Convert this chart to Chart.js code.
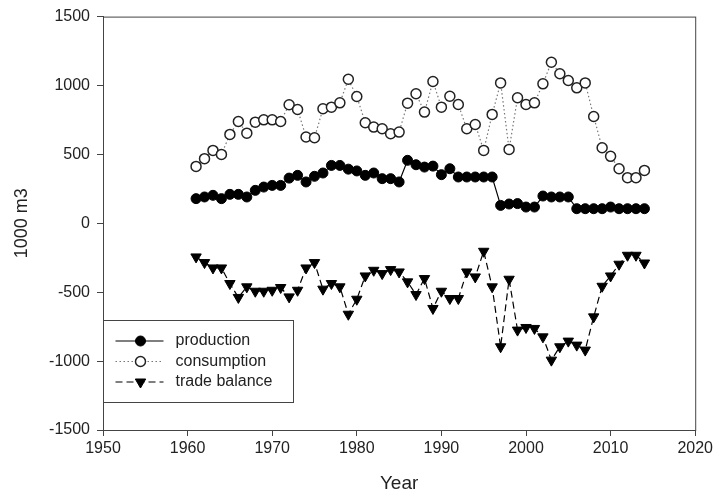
<!DOCTYPE html>
<html>
<head>
<meta charset="utf-8">
<script src="https://cdn.jsdelivr.net/npm/chart.js@4"></script>
<style>
  html, body { margin: 0; padding: 0; background: #fff; }
  #wrap { width: 716px; height: 495px; }
</style>
</head>
<body>
<div id="wrap"><canvas id="chart" width="716" height="495"></canvas></div>
<script>
// years 1961 - 2014
var years = [];
for (var y = 1961; y <= 2014; y++) years.push(y);

var production = [179, 191, 203, 179, 210, 210, 191, 239, 263, 275,
                  275, 328, 348, 300, 341, 365, 420, 420, 393, 380,
                  348, 365, 324, 324, 300, 457, 425, 408, 415, 353,
                  396, 336, 336, 336, 336, 336, 130, 140, 143, 118,
                  118, 198, 191, 191, 191, 106, 106, 106, 106, 118,
                  106, 106, 106, 106];

var consumption = [413, 469, 529, 500, 645, 739, 654, 734, 751, 751,
                   739, 860, 826, 626, 621, 831, 843, 874, 1045, 920,
                   730, 698, 686, 650, 662, 872, 940, 807, 1029, 843,
                   922, 862, 686, 717, 529, 790, 1019, 536, 911, 862,
                   874, 1012, 1169, 1085, 1036, 983, 1019, 775, 548, 486,
                   396, 331, 331, 384];

var tradeBalance = [-244, -285, -324, -324, -437, -538, -461, -493, -493, -486,
                    -466, -534, -486, -324, -285, -478, -437, -461, -660, -551,
                    -382, -341, -365, -336, -353, -425, -517, -401, -618, -493,
                    -546, -546, -353, -389, -203, -461, -896, -406, -775, -756,
                    -763, -824, -993, -896, -855, -884, -920, -679, -457, -382,
                    -297, -232, -232, -288];

var seriesNames = ['production', 'consumption', 'trade balance'];
var xTicks = [1950, 1960, 1970, 1980, 1990, 2000, 2010, 2020];
var yTicks = [-1500, -1000, -500, 0, 500, 1000, 1500];

function pts(vals) {
    return vals.map(function (v, i) { return { x: years[i], y: v }; });
}

var textColor = '#222';
var fontFam = 'Arial, "Liberation Sans", sans-serif';

// frame round the plot + legend box in the lower left
var framePlugin = {
    id: 'frame',
    afterDraw: function (chart) {
        var ctx = chart.ctx, a = chart.chartArea;
        ctx.save();
        ctx.strokeStyle = '#444';
        ctx.lineWidth = 1;
        ctx.strokeRect(a.left + 0.5, a.top + 0.5, a.right - a.left, a.bottom - a.top);

        // legend
        var bx = a.left + 0.5, by = 320.5, bw = 190, bh = 82;
        ctx.fillStyle = '#fff';
        ctx.fillRect(bx, by, bw, bh);
        ctx.strokeStyle = '#444';
        ctx.strokeRect(bx, by, bw, bh);
        ctx.font = '16px ' + fontFam;
        ctx.textBaseline = 'middle';
        chart.data.datasets.forEach(function (ds, i) {
            var ry = by + 20.5 + i * 20.5;
            ctx.save();
            ctx.strokeStyle = ds.borderColor;
            ctx.lineWidth = ds.borderWidth;
            ctx.setLineDash(ds.borderDash || []);
            ctx.beginPath();
            ctx.moveTo(bx + 12, ry);
            ctx.lineTo(bx + 60, ry);
            ctx.stroke();
            ctx.restore();
            ctx.save();
            ctx.fillStyle = ds.pointBackgroundColor;
            ctx.strokeStyle = ds.pointBorderColor;
            ctx.lineWidth = ds.pointBorderWidth;
            Chart.helpers.drawPoint(ctx, {
                pointStyle: ds.pointStyle,
                rotation: ds.pointRotation || 0,
                radius: ds.pointRadius,
                borderWidth: ds.pointBorderWidth
            }, bx + 37, ry);
            ctx.restore();
            ctx.fillStyle = textColor;
            ctx.textAlign = 'left';
            ctx.fillText(seriesNames[i], bx + 72, ry);
        });
        ctx.restore();
    }
};

var ctx = document.getElementById('chart').getContext('2d');
var myChart = new Chart(ctx, {
    type: 'line',
    data: {
        datasets: [{
            label: seriesNames[0],
            data: pts(production),
            borderColor: '#000',
            borderWidth: 1.2,
            pointStyle: 'circle',
            pointRadius: 5,
            pointBackgroundColor: '#000',
            pointBorderColor: '#000',
            pointBorderWidth: 1
        }, {
            label: seriesNames[1],
            data: pts(consumption),
            borderColor: '#777',
            borderWidth: 1.2,
            borderDash: [1.5, 2.5],
            pointStyle: 'circle',
            pointRadius: 5,
            pointBackgroundColor: '#fff',
            pointBorderColor: '#222',
            pointBorderWidth: 1.5
        }, {
            label: seriesNames[2],
            data: pts(tradeBalance),
            borderColor: '#000',
            borderWidth: 1.2,
            borderDash: [7, 4],
            pointStyle: 'triangle',
            pointRotation: 180,
            pointRadius: 6,
            pointBackgroundColor: '#000',
            pointBorderColor: '#000',
            pointBorderWidth: 1
        }]
    },
    options: {
        responsive: false,
        animation: false,
        layout: { padding: { top: 16, right: 18, bottom: 0, left: 0 } },
        plugins: {
            legend: { display: false },
            tooltip: { enabled: false }
        },
        elements: { line: { tension: 0 } },
        scales: {
            x: {
                type: 'linear',
                min: 1950, max: 2020,
                afterBuildTicks: function (s) { s.ticks = xTicks.map(function (v) { return { value: v }; }); },
                afterFit: function (s) { s.height = 65; },
                grid: { drawOnChartArea: false, drawTicks: true, tickLength: 6, color: '#444' },
                border: { display: true, color: '#444' },
                ticks: {
                    color: textColor, padding: 3,
                    font: { family: fontFam, size: 16 },
                    callback: function (v) { return String(v); }
                },
                title: {
                    display: true, text: 'Year', color: textColor,
                    font: { family: fontFam, size: 19 },
                    padding: { top: 0, bottom: 0 }
                }
            },
            y: {
                min: -1500, max: 1500,
                afterBuildTicks: function (s) { s.ticks = yTicks.map(function (v) { return { value: v }; }); },
                afterFit: function (s) { s.width = 103; },
                grid: { drawOnChartArea: false, drawTicks: true, tickLength: 6, color: '#444' },
                border: { display: true, color: '#444' },
                ticks: {
                    color: textColor, padding: 7,
                    font: { family: fontFam, size: 16 },
                    callback: function (v) { return String(v); }
                },
                title: {
                    display: true, text: '1000 m3', color: textColor,
                    font: { family: fontFam, size: 18 },
                    padding: { top: 11, bottom: 0 }
                }
            }
        }
    },
    plugins: [framePlugin]
});
</script>
</body>
</html>
